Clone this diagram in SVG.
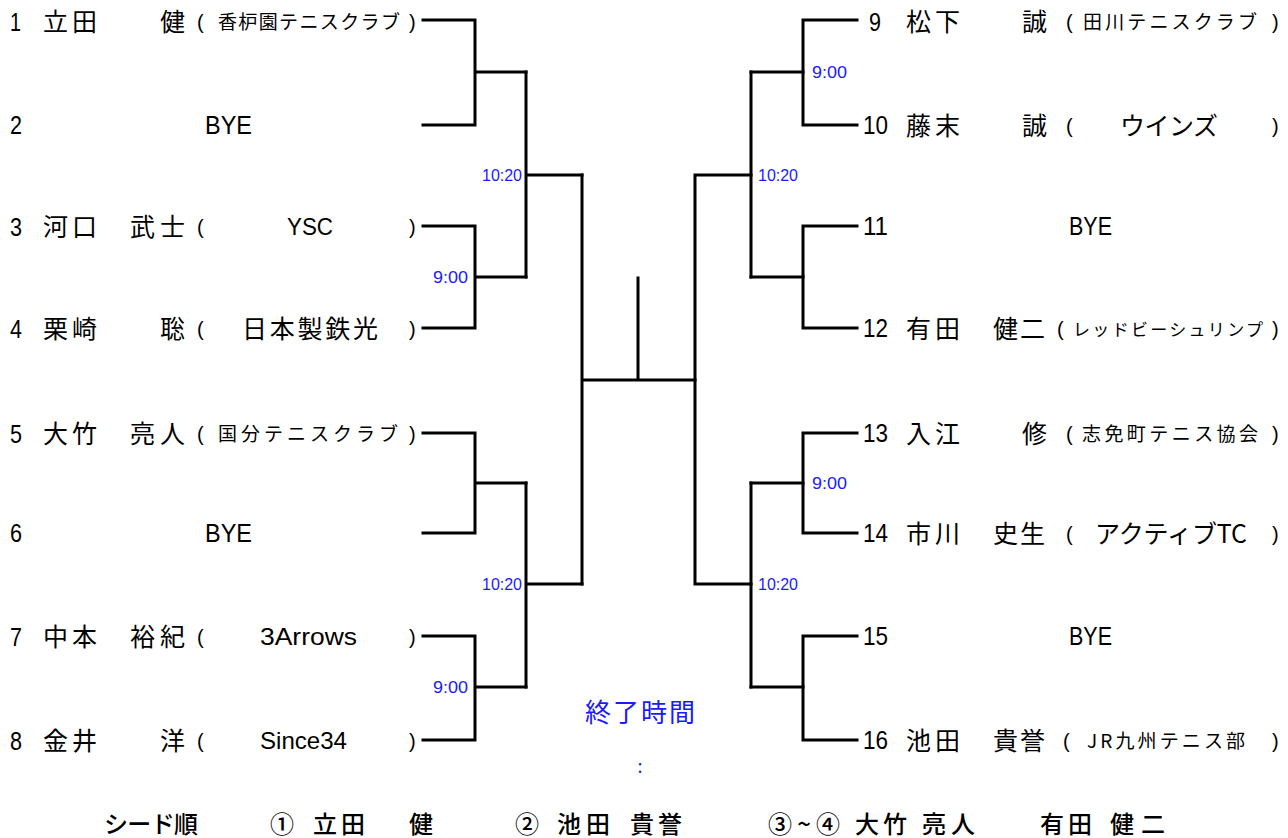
<svg xmlns="http://www.w3.org/2000/svg" width="1288" height="838" viewBox="0 0 1288 838">
<style>
.bg{fill:#fff}
.ln{stroke:#000;stroke-width:3;fill:none;stroke-linecap:square}
.n{font-family:"Liberation Sans",Arial,sans-serif;font-size:25px;fill:#000}
.j{font-family:"Noto Sans CJK JP",sans-serif;font-size:25px;fill:#000}
.s{font-family:"Noto Sans CJK JP",sans-serif;font-size:19px;fill:#000}
.p{font-family:"Liberation Sans",Arial,sans-serif;font-size:20px;fill:#000}
.l{font-family:"Liberation Sans",Arial,sans-serif;font-size:24px;fill:#000}
.t{font-family:"Liberation Sans",Arial,sans-serif;font-size:16px;fill:#1a1aff}
.c{font-family:"Noto Sans CJK JP",sans-serif;font-size:26px;fill:#1a1aff}
.f{font-family:"Noto Sans CJK JP",sans-serif;font-size:24px;font-weight:500;fill:#000}
</style>
<rect class="bg" x="0" y="0" width="1288" height="838"/>
<g id="connectors">
<path class="ln" d="M423,20 H475 V125 H423 M475,72 H526"/>
<path class="ln" d="M423,226 H475 V328 H423 M475,277 H526"/>
<path class="ln" d="M423,433 H475 V533 H423 M475,483 H526"/>
<path class="ln" d="M423,636 H475 V740 H423 M475,687 H526"/>
<path class="ln" d="M526,72 V277 M526,175 H582"/>
<path class="ln" d="M526,483 V687 M526,584 H582"/>
<path class="ln" d="M582,175 V584 M582,380 H695 M638,278 V380"/>
<path class="ln" d="M695,175 V584 M695,175 H751 M695,584 H751"/>
<path class="ln" d="M751,72 V277 M751,483 V687"/>
<path class="ln" d="M751,72 H803 M751,277 H803 M751,483 H803 M751,687 H803"/>
<path class="ln" d="M857,20 H803 V125 H857"/>
<path class="ln" d="M857,226 H803 V328 H857"/>
<path class="ln" d="M857,433 H803 V533 H857"/>
<path class="ln" d="M857,636 H803 V740 H857"/>
</g>
<g id="times">
<text class="t" x="482" y="181" textLength="40" lengthAdjust="spacingAndGlyphs">10:20</text>
<text class="t" x="482" y="590" textLength="40" lengthAdjust="spacingAndGlyphs">10:20</text>
<text class="t" x="433" y="283" textLength="35" lengthAdjust="spacingAndGlyphs">9:00</text>
<text class="t" x="433" y="693" textLength="35" lengthAdjust="spacingAndGlyphs">9:00</text>
<text class="t" x="758" y="181" textLength="40" lengthAdjust="spacingAndGlyphs">10:20</text>
<text class="t" x="758" y="590" textLength="40" lengthAdjust="spacingAndGlyphs">10:20</text>
<text class="t" x="812" y="78" textLength="35" lengthAdjust="spacingAndGlyphs">9:00</text>
<text class="t" x="812" y="489" textLength="35" lengthAdjust="spacingAndGlyphs">9:00</text>
</g>
<g id="p1"><text class="n" x="10" y="31" textLength="11" lengthAdjust="spacingAndGlyphs">1</text><text class="j" x="43" y="31" textLength="54">立田</text><text class="j" x="160" y="31">健</text><text class="p" x="197" y="29">(</text><text class="s" x="218" y="29" textLength="182">香枦園テニスクラブ</text><text class="p" x="409" y="29">)</text></g>
<g id="p2"><text class="n" x="10" y="134" textLength="12" lengthAdjust="spacingAndGlyphs">2</text><text class="n" x="205" y="134" textLength="47" lengthAdjust="spacingAndGlyphs">BYE</text></g>
<g id="p3"><text class="n" x="10" y="236" textLength="12" lengthAdjust="spacingAndGlyphs">3</text><text class="j" x="43" y="236" textLength="54">河口</text><text class="j" x="130" y="236" textLength="55">武士</text><text class="p" x="197" y="234">(</text><text class="l" x="287" y="235" textLength="46" lengthAdjust="spacingAndGlyphs">YSC</text><text class="p" x="409" y="234">)</text></g>
<g id="p4"><text class="n" x="10" y="338" textLength="12" lengthAdjust="spacingAndGlyphs">4</text><text class="j" x="43" y="338" textLength="54">栗崎</text><text class="j" x="160" y="338">聡</text><text class="p" x="197" y="336">(</text><text class="j" x="242" y="338" textLength="136">日本製鉄光</text><text class="p" x="409" y="336">)</text></g>
<g id="p5"><text class="n" x="10" y="443" textLength="12" lengthAdjust="spacingAndGlyphs">5</text><text class="j" x="43" y="443" textLength="54">大竹</text><text class="j" x="130" y="443" textLength="55">亮人</text><text class="p" x="197" y="441">(</text><text class="s" x="218" y="441" textLength="180">国分テニスクラブ</text><text class="p" x="409" y="441">)</text></g>
<g id="p6"><text class="n" x="10" y="542" textLength="12" lengthAdjust="spacingAndGlyphs">6</text><text class="n" x="205" y="542" textLength="47" lengthAdjust="spacingAndGlyphs">BYE</text></g>
<g id="p7"><text class="n" x="10" y="646" textLength="12" lengthAdjust="spacingAndGlyphs">7</text><text class="j" x="43" y="646" textLength="54">中本</text><text class="j" x="130" y="646" textLength="55">裕紀</text><text class="p" x="197" y="644">(</text><text class="l" x="260" y="645" textLength="97" lengthAdjust="spacingAndGlyphs">3Arrows</text><text class="p" x="409" y="644">)</text></g>
<g id="p8"><text class="n" x="10" y="750" textLength="12" lengthAdjust="spacingAndGlyphs">8</text><text class="j" x="43" y="750" textLength="54">金井</text><text class="j" x="160" y="750">洋</text><text class="p" x="197" y="748">(</text><text class="l" x="260" y="749" textLength="87" lengthAdjust="spacingAndGlyphs">Since34</text><text class="p" x="409" y="748">)</text></g>
<g id="p9"><text class="n" x="869" y="31" textLength="12" lengthAdjust="spacingAndGlyphs">9</text><text class="j" x="906" y="31" textLength="54">松下</text><text class="j" x="1022" y="31">誠</text><text class="p" x="1066" y="29">(</text><text class="s" x="1083" y="29" textLength="174">田川テニスクラブ</text><text class="p" x="1272" y="29">)</text></g>
<g id="p10"><text class="n" x="863" y="134" textLength="25" lengthAdjust="spacingAndGlyphs">10</text><text class="j" x="906" y="135" textLength="54">藤末</text><text class="j" x="1022" y="135">誠</text><text class="p" x="1066" y="133">(</text><text class="j" x="1120" y="135" textLength="98">ウインズ</text><text class="p" x="1272" y="133">)</text></g>
<g id="p11"><text class="n" x="863" y="235" textLength="25" lengthAdjust="spacingAndGlyphs">11</text><text class="n" x="1069" y="235" textLength="43" lengthAdjust="spacingAndGlyphs">BYE</text></g>
<g id="p12"><text class="n" x="863" y="337" textLength="25" lengthAdjust="spacingAndGlyphs">12</text><text class="j" x="906" y="338" textLength="54">有田</text><text class="j" x="993" y="338" textLength="52">健二</text><text class="p" x="1057" y="336">(</text><text class="s" x="1073" y="336" textLength="190" style="font-size:17px">レッドビーシュリンプ</text><text class="p" x="1272" y="336">)</text></g>
<g id="p13"><text class="n" x="863" y="442" textLength="25" lengthAdjust="spacingAndGlyphs">13</text><text class="j" x="906" y="443" textLength="54">入江</text><text class="j" x="1022" y="443">修</text><text class="p" x="1066" y="441">(</text><text class="s" x="1082" y="441" textLength="176">志免町テニス協会</text><text class="p" x="1272" y="441">)</text></g>
<g id="p14"><text class="n" x="863" y="542" textLength="25" lengthAdjust="spacingAndGlyphs">14</text><text class="j" x="906" y="543" textLength="54">市川</text><text class="j" x="993" y="543" textLength="52">史生</text><text class="p" x="1066" y="541">(</text><text class="j" x="1095" y="543" textLength="152">アクティブTC</text><text class="p" x="1272" y="541">)</text></g>
<g id="p15"><text class="n" x="863" y="645" textLength="25" lengthAdjust="spacingAndGlyphs">15</text><text class="n" x="1069" y="645" textLength="43" lengthAdjust="spacingAndGlyphs">BYE</text></g>
<g id="p16"><text class="n" x="863" y="749" textLength="25" lengthAdjust="spacingAndGlyphs">16</text><text class="j" x="906" y="750" textLength="54">池田</text><text class="j" x="993" y="750" textLength="52">貴誉</text><text class="p" x="1063" y="748">(</text><text class="s" x="1087" y="748" textLength="158">JR九州テニス部</text><text class="p" x="1272" y="748">)</text></g>
<g id="endtime">
<text class="c" x="585" y="722" textLength="110">終了時間</text>
<text class="c" x="640" y="773" text-anchor="middle" style="font-size:18px">:</text>
</g>
<g id="seeds">
<text class="f" x="104" y="833" textLength="94">シード順</text>
<text class="f" x="270" y="833">①</text>
<text class="f" x="313" y="833" textLength="52">立田</text>
<text class="f" x="409" y="833">健</text>
<text class="f" x="515" y="833">②</text>
<text class="f" x="557" y="833" textLength="53">池田</text>
<text class="f" x="630" y="833" textLength="52">貴誉</text>
<text class="f" x="768" y="833" textLength="72">③~④</text>
<text class="f" x="855" y="833" textLength="52">大竹</text>
<text class="f" x="922" y="833" textLength="53">亮人</text>
<text class="f" x="1040" y="833" textLength="52">有田</text>
<text class="f" x="1110" y="833" textLength="55">健二</text>
</g>
</svg>
